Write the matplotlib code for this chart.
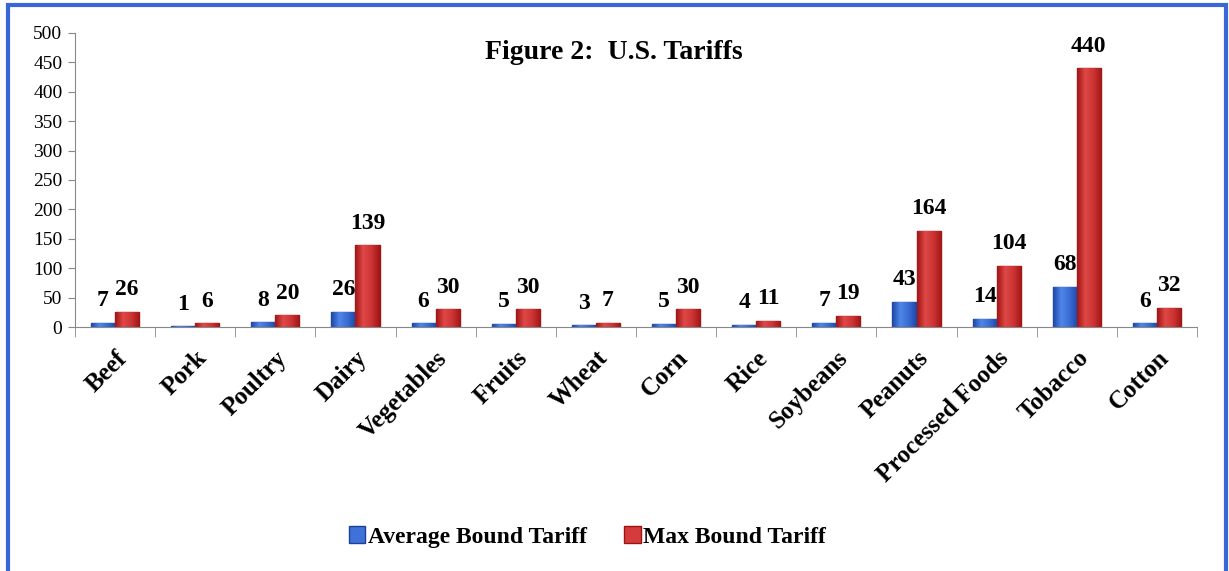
import numpy as np
import matplotlib.pyplot as plt
from matplotlib.patches import Rectangle
from matplotlib.colors import LinearSegmentedColormap

# datos
categorias = ['Beef', 'Pork', 'Poultry', 'Dairy', 'Vegetables', 'Fruits', 'Wheat',
              'Corn', 'Rice', 'Soybeans', 'Peanuts', 'Processed Foods', 'Tobacco', 'Cotton']
promedio = [7, 1, 8, 26, 6, 5, 3, 5, 4, 7, 43, 14, 68, 6]
maximo = [26, 6, 20, 139, 30, 30, 7, 30, 11, 19, 164, 104, 440, 32]
yticks = list(range(0, 501, 50))

serif = ['Liberation Serif', 'DejaVu Serif']
plt.rcParams['font.family'] = serif

fig = plt.figure(figsize=(12.29, 5.71), dpi=100)
ax = fig.add_axes([0.061, 0.4273, 0.913, 0.515])

x = np.arange(len(categorias))
w = 0.3
b1 = ax.bar(x - w / 2, promedio, w, color='#3f72d9', edgecolor='#1c3f9a', linewidth=1.0,
            label='Average Bound Tariff')
b2 = ax.bar(x + w / 2, maximo, w, color='#d43b3b', edgecolor='#9a1414', linewidth=1.0,
            label='Max Bound Tariff')

# degradado horizontal para dar efecto 3D
cm_azul = LinearSegmentedColormap.from_list('az', ['#1d46a8', '#4f86e8', '#3a6cd4', '#1d46a8'])
cm_rojo = LinearSegmentedColormap.from_list('ro', ['#a01515', '#e04848', '#cc3434', '#a01515'])
grad = np.linspace(0, 1, 64).reshape(1, -1)
for bars, cm in ((b1, cm_azul), (b2, cm_rojo)):
    for r in bars:
        x0, h, bw = r.get_x(), r.get_height(), r.get_width()
        im = ax.imshow(grad, cmap=cm, extent=[x0, x0 + bw, 0, h], aspect='auto', zorder=2)
        im.set_clip_path(r)

# etiquetas de valores
for bars, vals in ((b1, promedio), (b2, maximo)):
    for r, v in zip(bars, vals):
        ax.annotate(str(v), (r.get_x() + r.get_width() / 2, v), xytext=(0, 16),
                    textcoords='offset points', ha='center', va='center',
                    fontsize=17, fontweight='bold')

ax.set_xlim(-0.5, len(categorias) - 0.5)
ax.set_ylim(0, 500)
ax.set_yticks(yticks)
ax.tick_params(axis='y', labelsize=14, length=5, color='#888888', pad=4)
ax.set_xticks(x)
ax.set_xticklabels(categorias, rotation=45, ha='right', rotation_mode='anchor',
                   fontsize=18, fontweight='bold')
ax.tick_params(axis='x', length=0, pad=14)
ax.set_xticks(np.arange(-0.5, len(categorias)), minor=True)
ax.tick_params(axis='x', which='minor', length=7, color='#888888')
for s in ('top', 'right'):
    ax.spines[s].set_visible(False)
ax.spines['left'].set_color('#888888')
ax.spines['bottom'].set_color('#888888')

ax.text(0.48, 0.975, 'Figure 2:  U.S. Tariffs', transform=ax.transAxes, ha='center', va='top',
        fontsize=20, fontweight='bold')

fig.legend(handles=[b1, b2], loc='center', bbox_to_anchor=(0.478, 0.06), ncol=2, frameon=False,
           prop={'family': serif, 'weight': 'bold', 'size': 17}, handlelength=0.7,
           handleheight=0.7, handletextpad=0.1, columnspacing=1.6)

# borde azul
fig.patches.append(Rectangle((8 / 1229, -0.05), 1218 / 1229, 1.05 - 5 / 571,
                             transform=fig.transFigure, fill=False, edgecolor='#3a66d8',
                             linewidth=3))

fig.savefig('out.png', dpi=100)
